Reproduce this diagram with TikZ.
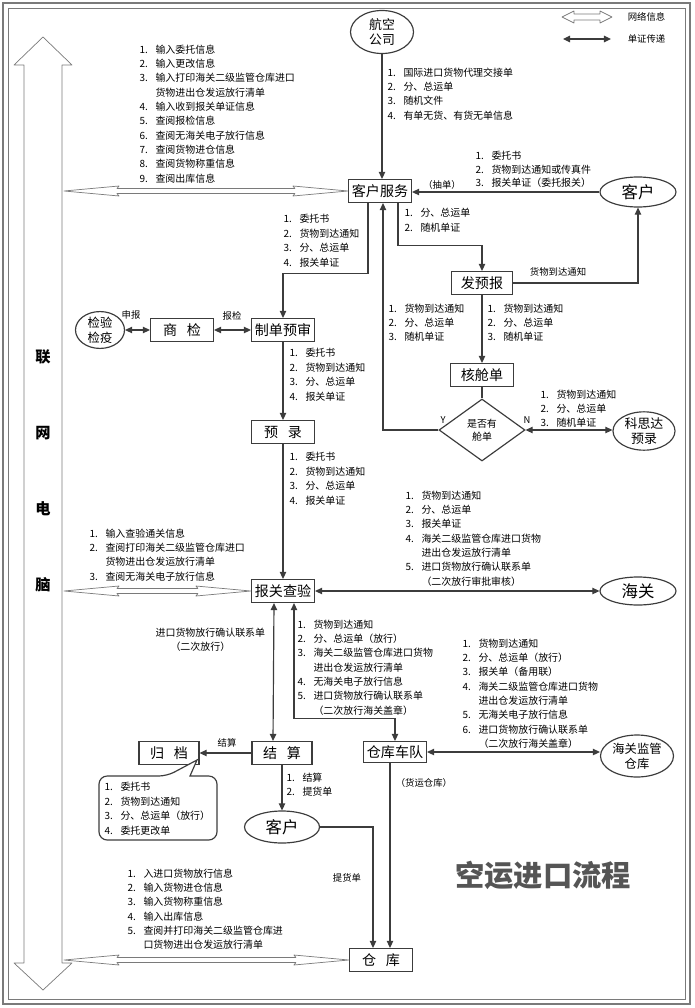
\documentclass[tikz,border=0pt]{standalone}
\usepackage{fontspec}
\setmainfont{Noto Sans CJK SC}
\usetikzlibrary{arrows.meta, positioning, shapes.geometric, calc}
\definecolor{cline}{HTML}{3C3C3C}
\definecolor{cframe}{HTML}{7A7A7A}
\definecolor{ctitle}{HTML}{555555}
\newcommand{\itm}[1]{\makebox[1.6em][l]{#1.}}
\newcommand{\cnt}{\hspace*{1.6em}}
\tikzset{
  every picture/.style={line width=1pt},
  box/.style={draw=cline, fill=white, inner sep=1pt, minimum width=1.89cm, minimum height=0.69cm, font=\fontsize{12}{14}\selectfont},
  ell/.style={ellipse, draw=cline, fill=white, inner sep=0pt, align=center},
  doc/.style={-{Triangle[length=6pt, width=5.5pt]}, draw=cline},
  docboth/.style={{Triangle[length=6pt, width=5.5pt]}-{Triangle[length=6pt, width=5.5pt]}, draw=cline},
  netarrow/.style={draw=cframe, fill=white, line width=0.6pt, line join=round},
  infolist/.style={anchor=north west, align=left, inner sep=0pt, font=\fontsize{8.5}{12.25}\selectfont},
  tagtext/.style={inner sep=1pt, font=\fontsize{8}{10}\selectfont},
}

\begin{document}
\begin{tikzpicture}[x=0.03cm, y=-0.03cm]
  \useasboundingbox (0,0) rectangle (694,1008);
  \draw[cframe, line width=1.3pt] (3,3) rectangle (690,1004);
  \draw[cframe, line width=0.8pt] (8,8) rectangle (685,999);

  % legend
  \coordinate (lgA) at (562,17);
  \coordinate (lgB) at (612,17);
  \coordinate (lgC) at (563,39);
  \coordinate (lgD) at (611,39);
  \draw[netarrow] (lgA) -- ++(12,-6) -- ++(0,3) -- ($(lgB)+(-12,-3)$) -- ++(0,-3) -- (lgB)
    -- ++(-12,6) -- ++(0,-3) -- ($(lgA)+(12,3)$) -- ++(0,3) -- cycle;
  \draw[docboth] (lgC) -- (lgD);
  \node[tagtext, anchor=west] (lgnet) at (626,17) {网络信息};
  \node[tagtext, anchor=west] (lgdoc) at (626,39) {单证传递};

  % network computer
  \draw[netarrow] (43,37) -- (72,65) -- (62,65) -- (62,963) -- (72,963) -- (43,990)
    -- (14,963) -- (24,963) -- (24,65) -- (14,65) -- cycle;
  \coordinate (bus) at (64,0);
  \node[align=center, font=\fontsize{13}{64.7}\selectfont\bfseries] (busname) at (43,471) {联\\网\\电\\脑};

  % nodes
  \node[ell, minimum width=1.89cm, minimum height=1.29cm, font=\fontsize{11}{13}\selectfont] (air) at (382,32) {航空\\公司};
  \node[box] (kfu) at (380,191) {客户服务};
  \node[ell, minimum width=2.28cm, minimum height=0.9cm, font=\fontsize{14}{16}\selectfont] (kh1) at (638,192) {客户};
  \node[box, minimum width=1.83cm] (fyb) at (482,283) {发预报};
  \node[box] (hcd) at (482,375) {核舱单};
  \node[diamond, draw=cline, fill=white, aspect=1.4, minimum width=2.58cm, minimum height=1.86cm, inner sep=0pt,
        align=center, font=\fontsize{8.5}{11}\selectfont] (ask) at (482,430) {是否有\\舱单};
  \node[ell, minimum width=1.86cm, minimum height=1.14cm, font=\fontsize{11}{13}\selectfont] (ksd) at (644,431) {科思达\\预录};
  \node[box] (zdy) at (283,330) {制单预审};
  \node[box] (sj) at (182,330) {商\hspace{0.7em}检};
  \node[ell, minimum width=1.47cm, minimum height=1.08cm, font=\fontsize{10.5}{12.5}\selectfont] (jyjy) at (100,330) {检验\\检疫};
  \node[box] (yl) at (283,432) {预\hspace{0.7em}录};
  \node[box] (bgc) at (283,591) {报关查验};
  \node[ell, minimum width=2.28cm, minimum height=0.84cm, font=\fontsize{14}{16}\selectfont] (hg) at (638,591) {海关};
  \node[box, minimum width=1.8cm] (js) at (282,753) {结\hspace{0.7em}算};
  \node[box, minimum width=1.8cm] (gd) at (169,753) {归\hspace{0.7em}档};
  \node[box, minimum height=0.63cm] (ckcd) at (395,752) {仓库车队};
  \node[ell, minimum width=2.19cm, minimum height=1.26cm, font=\fontsize{10.5}{12.5}\selectfont] (hgjg) at (637,756) {海关监管\\仓库};
  \node[ell, minimum width=2.25cm, minimum height=0.96cm, font=\fontsize{14}{16}\selectfont] (kh2) at (282,827) {客户};
  \node[box] (ck) at (381,960) {仓\hspace{0.7em}库};

  % network links
  \foreach \b in {kfu, bgc, ck} {
    \path (bus |- \b.west) coordinate (l) (\b.west) coordinate (r);
    \draw[netarrow] (l) -- ++(55,-5) -- ++(-2,2.5) -- ($(r)+(-53,-2.5)$) -- ++(-2,-2.5) -- (r)
      -- ++(-55,5) -- ++(2,-2.5) -- ($(l)+(53,2.5)$) -- ++(2,2.5) -- cycle;
  }

  % document flow
  \draw[doc] (air) -- (air |- kfu.north);
  \draw[doc] (kh1) -- (kh1 -| kfu.east);
  \draw[doc] ($(kfu.south)+(18,0)$) -- ++(0,42) -| (fyb.north);
  \draw[doc] (fyb) -| (kh1);
  \draw[doc] (fyb) -- (hcd);
  \draw[cline] (hcd) -- (ask);
  \draw[doc] (ask.west) -| ($(kfu.south)+(3,0)$);
  \draw[docboth] (ask.east) -- (ask.east -| ksd.west);
  \draw[doc] ($(kfu.south)+(-12,0)$) -- ++(0,70) -| (zdy.north);
  \draw[docboth] (jyjy) -- (sj);
  \draw[docboth] (sj) -- (zdy);
  \draw[doc] (zdy) -- (yl);
  \draw[doc] (yl) -- (bgc);
  \draw[docboth] (bgc) -- (hg);
  \draw[docboth] ($(bgc.south)+(-9,0)$) -- ($(js.north)+(-9,0)$);
  \draw[docboth] ($(bgc.south)+(11,0)$) -- ++(0,115) -| (ckcd.north);
  \draw[docboth] (ckcd) -- (ckcd -| hgjg.west);
  \draw[doc] (js) -- (gd);
  \draw[doc] (js) -- (kh2);
  \draw[doc] (kh2) -| ($(ck.north)+(-8,0)$);
  \draw[doc] ($(ckcd.south)+(-5,0)$) -- ($(ck.north)+(9,0)$);

  % archive note
  \draw[draw=cline, fill=white] (99,800) [rounded corners=7pt] -- (99,776) -- (167,776) [sharp corners] -- (197,760)
    -- (190,776) [rounded corners=7pt] -- (217,776) -- (217,840) -- (99,840) -- cycle;
  \node[infolist] (gdnote) at (104,782) {\itm{1}委托书\\ \itm{2}货物到达通知\\ \itm{3}分、总运单（放行）\\ \itm{4}委托更改单};

  % lists
  \node[infolist] (netA) at (139,44) {\itm{1}输入委托信息\\ \itm{2}输入更改信息\\ \itm{3}输入打印海关二级监管仓库进口\\
    \cnt 货物进出仓发运放行清单\\ \itm{4}输入收到报关单证信息\\ \itm{5}查阅报检信息\\ \itm{6}查阅无海关电子放行信息\\
    \itm{7}查阅货物进仓信息\\ \itm{8}查阅货物称重信息\\ \itm{9}查阅出库信息};
  \node[infolist] (airdoc) at (387,67) {\itm{1}国际进口货物代理交接单\\ \itm{2}分、总运单\\ \itm{3}随机文件\\ \itm{4}有单无货、有货无单信息};
  \node[infolist, font=\fontsize{8.5}{11.5}\selectfont] (khdoc) at (475,151) {\itm{1}委托书\\ \itm{2}货物到达通知或传真件\\ \itm{3}报关单证（委托报关）};
  \node[tagtext] (chou) at (442,185) {（抽单）};
  \node[infolist, font=\fontsize{8.5}{12.75}\selectfont] (fybdoc) at (404,208) {\itm{1}分、总运单\\ \itm{2}随机单证};
  \node[tagtext] (notice) at (558,272) {货物到达通知};
  \node[infolist] (backdoc) at (388,303) {\itm{1}货物到达通知\\ \itm{2}分、总运单\\ \itm{3}随机单证};
  \node[infolist] (hcddoc) at (487,303) {\itm{1}货物到达通知\\ \itm{2}分、总运单\\ \itm{3}随机单证};
  \node[infolist] (ksddoc) at (540,389) {\itm{1}货物到达通知\\ \itm{2}分、总运单\\ \itm{3}随机单证};
  \node[tagtext] (yes) at (443,420) {Y};
  \node[tagtext] (no) at (527,420) {N};
  \node[infolist] (zdydoc) at (283,214) {\itm{1}委托书\\ \itm{2}货物到达通知\\ \itm{3}分、总运单\\ \itm{4}报关单证};
  \node[tagtext] (shenbao) at (131,315) {申报};
  \node[tagtext] (baojian) at (232,316) {报检};
  \node[infolist] (yldoc) at (289,348) {\itm{1}委托书\\ \itm{2}货物到达通知\\ \itm{3}分、总运单\\ \itm{4}报关单证};
  \node[infolist] (bgcdoc) at (289,452) {\itm{1}委托书\\ \itm{2}货物到达通知\\ \itm{3}分、总运单\\ \itm{4}报关单证};
  \node[infolist] (netB) at (89,528) {\itm{1}输入查验通关信息\\ \itm{2}查阅打印海关二级监管仓库进口\\
    \cnt 货物进出仓发运放行清单\\ \itm{3}查阅无海关电子放行信息};
  \node[infolist] (hgdoc) at (405,490) {\itm{1}货物到达通知\\ \itm{2}分、总运单\\ \itm{3}报关单证\\
    \itm{4}海关二级监管仓库进口货物\\ \cnt 进出仓发运放行清单\\ \itm{5}进口货物放行确认联系单\\ \cnt（二次放行审批审核）};
  \node[infolist] (jsdoc) at (155,627) {进口货物放行确认联系单\\ \hspace*{1.5em}（二次放行）};
  \node[infolist] (cddoc) at (297,619) {\itm{1}货物到达通知\\ \itm{2}分、总运单（放行）\\ \itm{3}海关二级监管仓库进口货物\\
    \cnt 进出仓发运放行清单\\ \itm{4}无海关电子放行信息\\ \itm{5}进口货物放行确认联系单\\ \cnt（二次放行海关盖章）};
  \node[infolist] (jgdoc) at (462,638) {\itm{1}货物到达通知\\ \itm{2}分、总运单（放行）\\ \itm{3}报关单（备用联）\\
    \itm{4}海关二级监管仓库进口货物\\ \cnt 进出仓发运放行清单\\ \itm{5}无海关电子放行信息\\
    \itm{6}进口货物放行确认联系单\\ \cnt（二次放行海关盖章）};
  \node[tagtext] (jiesuan) at (227,743) {结算};
  \node[infolist, font=\fontsize{8.5}{12.75}\selectfont] (kh2doc) at (286,772) {\itm{1}结算\\ \itm{2}提货单};
  \node[tagtext, anchor=west] (huoyun) at (394,783) {（货运仓库）};
  \node[tagtext] (tihuo) at (347,878) {提货单};
  \node[infolist] (netC) at (127,868) {\itm{1}入进口货物放行信息\\ \itm{2}输入货物进仓信息\\ \itm{3}输入货物称重信息\\
    \itm{4}输入出库信息\\ \itm{5}查阅并打印海关二级监管仓库进\\ \cnt 口货物进出仓发运放行清单};

  % title
  \node[font=\fontsize{25}{25}\selectfont\bfseries, text=ctitle] (title) at (543,875) {空运进口流程};
\end{tikzpicture}
\end{document}
